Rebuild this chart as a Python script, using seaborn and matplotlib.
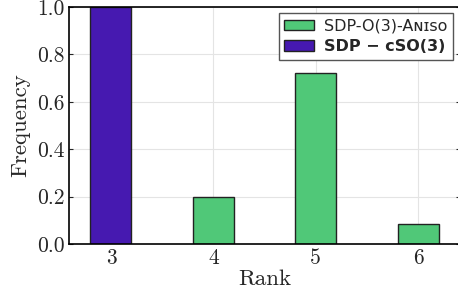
import matplotlib
matplotlib.use("Agg")
import matplotlib.pyplot as plt
import pandas as pd
import seaborn as sns

RANKS = ["3", "4", "5", "6"]
FREQS = [1.0, 0.197, 0.722, 0.085]
METHODS = ["SDP − cSO(3)", "SDP-O(3)-Aɴɪꜱᴏ", "SDP-O(3)-Aɴɪꜱᴏ", "SDP-O(3)-Aɴɪꜱᴏ"]
HUE_ORDER = ["SDP-O(3)-Aɴɪꜱᴏ", "SDP − cSO(3)"]
COLORS = {"SDP-O(3)-Aɴɪꜱᴏ": "#50C878", "SDP − cSO(3)": "#4619B0"}

sns.set_style("whitegrid")
plt.rcParams["font.family"] = "serif"
plt.rcParams["font.serif"] = ["cmr10"]
plt.rcParams["mathtext.fontset"] = "cm"
plt.rcParams["axes.formatter.use_mathtext"] = True

df = pd.DataFrame({"rank": RANKS, "freq": FREQS, "method": METHODS})

fig = plt.figure(figsize=(4.58, 3.0), dpi=100)
ax = fig.add_axes([69 / 458, 1 - 244 / 300, (460 - 69) / 458, (244 - 7) / 300])
sns.barplot(data=df, x="rank", y="freq", hue="method", hue_order=HUE_ORDER,
            order=RANKS, palette=COLORS, dodge=False, width=0.4,
            edgecolor="#222222", linewidth=1.0, saturation=1, ax=ax)

ax.set_xlim(-0.41, 3.41)
ax.set_ylim(0, 1.0)
ax.set_yticks([0, 0.2, 0.4, 0.6, 0.8, 1.0])
ax.set_yticklabels(["0.0", "0.2", "0.4", "0.6", "0.8", "1.0"])
ax.set_xlabel("Rank", fontsize=16.5, labelpad=1)
ax.set_ylabel("Frequency", fontsize=16.5, labelpad=5)
ax.tick_params(labelsize=15.5, direction="in", length=3, right=True, left=True, pad=3)
ax.grid(True, color="#e4e4e4", linewidth=0.8)
ax.set_axisbelow(True)
for s in ax.spines.values():
    s.set_color("black")
    s.set_linewidth(1.2)

leg = ax.legend(loc="upper right", bbox_to_anchor=(453 / 458, 1 - 13 / 300),
                bbox_transform=fig.transFigure, frameon=True, fancybox=False,
                prop={"family": "DejaVu Sans", "size": 11.5},
                edgecolor="#555555", framealpha=1, borderaxespad=0,
                borderpad=0.35, handlelength=1.9, handleheight=0.6,
                handletextpad=0.6, labelspacing=0.35)
leg.get_frame().set_linewidth(1.0)
leg.texts[1].set_fontweight("bold")

fig.savefig("out.png", dpi=100)
